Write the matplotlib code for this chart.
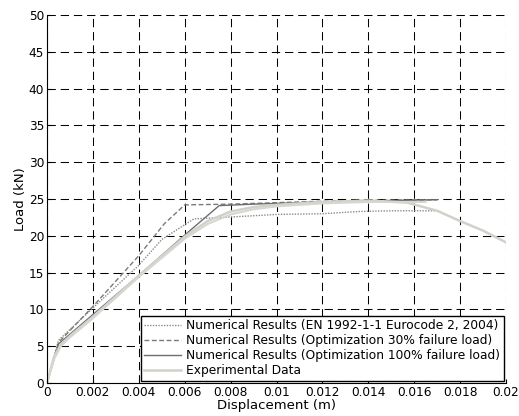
import numpy as np
import matplotlib
matplotlib.use("Agg")
import matplotlib.pyplot as plt

plt.rcParams['font.family'] = ['DejaVu Sans']
plt.rcParams['lines.scale_dashes'] = False

# EN 1992-1-1 curve
en_x = [0, 0.0005, 0.002, 0.004, 0.005, 0.0064, 0.0077, 0.010, 0.012, 0.0136, 0.015, 0.0170]
en_y = [0, 5.8, 10.2, 16.0, 19.5, 22.3, 22.5, 22.9, 23.0, 23.3, 23.4, 23.4]

# optimization 30% failure load
o30_x = [0, 0.0005, 0.002, 0.004, 0.0051, 0.0060, 0.008, 0.010, 0.012, 0.014, 0.0170]
o30_y = [0, 5.5, 10.4, 17.3, 21.6, 24.2, 24.3, 24.5, 24.7, 24.8, 24.9]

# optimization 100% failure load
o100_x = [0, 0.0005, 0.002, 0.004, 0.006, 0.0075, 0.009, 0.011, 0.013, 0.015, 0.0170]
o100_y = [0, 5.3, 9.3, 14.6, 20.1, 24.1, 24.3, 24.5, 24.7, 24.8, 24.9]

# experimental data (two specimens)
exp1_x = [0, 0.0003, 0.0006, 0.001, 0.002, 0.004, 0.006, 0.007, 0.008, 0.009, 0.010,
          0.012, 0.014, 0.0157, 0.017, 0.018, 0.019, 0.020]
exp1_y = [0, 3.5, 5.2, 6.4, 9.0, 14.6, 19.9, 22.0, 23.3, 23.9, 24.2,
          24.6, 24.8, 24.5, 23.4, 22.0, 20.7, 19.1]
exp2_x = [0, 0.0003, 0.0006, 0.001, 0.002, 0.004, 0.006, 0.007, 0.008, 0.009, 0.010,
          0.012, 0.014, 0.0165]
exp2_y = [0, 3.2, 5.0, 6.2, 8.8, 14.4, 19.6, 21.6, 22.9, 23.6, 24.0,
          24.4, 24.6, 24.6]

fig = plt.figure(figsize=(5.19, 4.16), dpi=100)
ax = fig.add_axes([0.0906, 0.0793, 0.8844, 0.8847])

ax.plot(en_x, en_y, color='#8a8a8a', lw=1.0, linestyle=(0, (1, 1)),
        label='Numerical Results (EN 1992-1-1 Eurocode 2, 2004)')
ax.plot(o30_x, o30_y, color='#7a7a7a', lw=1.0, linestyle=(0, (3.5, 1.8)),
        label='Numerical Results (Optimization 30% failure load)')
ax.plot(o100_x, o100_y, color='#6e6e6e', lw=1.0,
        label='Numerical Results (Optimization 100% failure load)')
ax.plot(exp1_x, exp1_y, color='#d2d0ca', lw=1.8, label='Experimental Data')
ax.plot(exp2_x, exp2_y, color='#d8d6d0', lw=1.5)

ax.set_xlim(0, 0.02)
ax.set_ylim(0, 50)
ax.set_xticks(np.arange(0, 0.0201, 0.002))
ax.set_xticklabels(['0', '0.002', '0.004', '0.006', '0.008', '0.01',
                    '0.012', '0.014', '0.016', '0.018', '0.02'])
ax.set_yticks(np.arange(0, 51, 5))

ax.grid(True, color='black', linestyle=(0, (6, 3.5)), linewidth=0.75)
ax.set_axisbelow(True)
ax.spines['top'].set_visible(False)
ax.spines['right'].set_visible(False)
ax.spines['left'].set_linewidth(0.8)
ax.spines['bottom'].set_linewidth(0.8)
ax.tick_params(direction='in', length=3, width=0.8, labelsize=8.7, pad=2)

ax.set_xlabel('Displacement (m)', fontsize=9.5, labelpad=0)
ax.set_ylabel('Load (kN)', fontsize=9.5, labelpad=1)

leg = ax.legend(loc='lower right', fontsize=8.8, fancybox=False, framealpha=1,
                edgecolor='black', borderpad=0.3, labelspacing=0.15,
                handlelength=3.0, handletextpad=0.4, borderaxespad=0.2)
leg.get_frame().set_linewidth(1.0)

fig.savefig('out.png', dpi=100)
